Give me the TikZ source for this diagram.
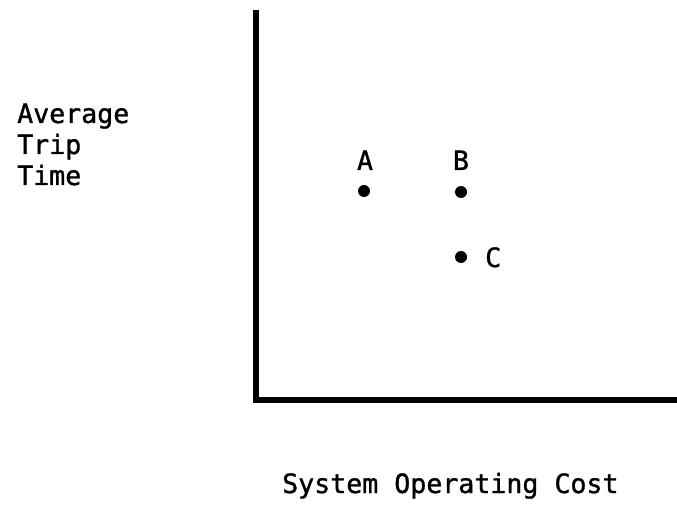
\documentclass[tikz,border=0pt]{standalone}
\usepackage{fontspec}
\newfontfamily\plotfont[FakeBold=1.2]{DejaVu Sans Mono}
\begin{document}
\begin{tikzpicture}[x=1pt,y=1pt,
  axisline/.style={line width=6pt, line join=miter},
  pointdot/.style={circle, fill=black, inner sep=0pt, minimum size=12pt},
  lbl/.style={inner sep=0pt, font=\plotfont\fontsize{26.6}{31}\selectfont}]
  \useasboundingbox (0,0) rectangle (677,504);
  % axes
  \coordinate (ytop) at (256,494);
  \coordinate (origin) at (256,104);
  \coordinate (xend) at (677,104);
  \draw[axisline] (ytop) -- (origin) -- (xend);
  % axis titles (base anchor sits on the last line)
  \node[lbl, anchor=base west, align=left] (ytitle) at (17,319)
    {Average\\Trip\\Time};
  \node[lbl, anchor=base west] (xtitle) at (282,11) {System Operating Cost};
  % data points
  \node[pointdot] (pa) at (364,313) {};
  \node[pointdot] (pb) at (461,312) {};
  \node[pointdot] (pc) at (461,247) {};
  \node[lbl, anchor=base] (la) at (365,334) {A};
  \node[lbl, anchor=base] (lb) at (461,334) {B};
  \node[lbl, anchor=base west] (lc) at (485,237) {C};
\end{tikzpicture}
\end{document}
